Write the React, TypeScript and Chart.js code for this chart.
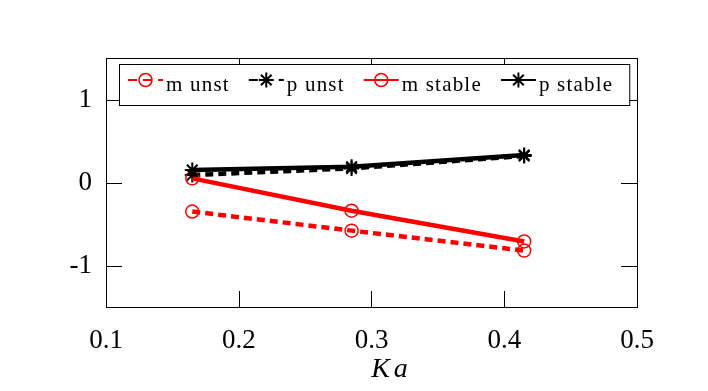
import React, { useEffect, useRef } from "react";
import { Chart, registerables } from "chart.js";

Chart.register(...registerables);

// ---- data ----
const kaValues = [0.165, 0.285, 0.415];
const mUnst = [-0.35, -0.58, -0.82];
const pUnst = [0.09, 0.17, 0.32];
const mStable = [0.05, -0.34, -0.71];
const pStable = [0.15, 0.19, 0.33];
const xTicks = [0.1, 0.2, 0.3, 0.4, 0.5];
const yTicks = [-1, 0, 1];
const seriesLabels = ["m unst", "p unst", "m stable", "p stable"];
const xTitle = "Ka";

const RED = "#ff0000";
const BLACK = "#000000";
const SERIF = "'Liberation Serif', 'DejaVu Serif', serif";

function pts(ys: number[]) {
  return kaValues.map((x, i) => ({ x, y: ys[i] }));
}

function drawMarker(ctx: CanvasRenderingContext2D, style: string, cx: number, cy: number, r: number, color: string, lw: number) {
  ctx.save();
  ctx.setLineDash([]);
  ctx.strokeStyle = color;
  ctx.lineWidth = lw;
  ctx.beginPath();
  if (style === "circle") {
    ctx.arc(cx, cy, r, 0, Math.PI * 2);
  } else {
    for (let k = 0; k < 4; k++) {
      const ang = (k * Math.PI) / 4;
      const dx = Math.cos(ang) * r;
      const dy = Math.sin(ang) * r;
      ctx.moveTo(cx - dx, cy - dy);
      ctx.lineTo(cx + dx, cy + dy);
    }
  }
  ctx.stroke();
  ctx.restore();
}

const framePlugin = {
  id: "frame",
  afterDatasetsDraw(chart: any) {
    const { ctx, chartArea: a, scales } = chart;
    const xs = scales.x;
    const ys = scales.y;
    ctx.save();
    ctx.setLineDash([]);
    ctx.strokeStyle = BLACK;
    ctx.lineWidth = 1;
    ctx.strokeRect(a.left + 0.5, a.top + 0.5, a.right - a.left, a.bottom - a.top);
    const tl = 16;
    ctx.beginPath();
    xTicks.forEach((v) => {
      const px = Math.round(xs.getPixelForValue(v)) + 0.5;
      ctx.moveTo(px, a.bottom);
      ctx.lineTo(px, a.bottom - tl);
      ctx.moveTo(px, a.top);
      ctx.lineTo(px, a.top + tl);
    });
    yTicks.forEach((v) => {
      const py = Math.round(ys.getPixelForValue(v)) + 0.5;
      ctx.moveTo(a.left, py);
      ctx.lineTo(a.left + tl, py);
      ctx.moveTo(a.right, py);
      ctx.lineTo(a.right - tl, py);
    });
    ctx.stroke();

    // ---- legend ----
    const lx = a.left + 13;
    const ly = a.top + 6;
    const lh = 41;
    ctx.font = `21px ${SERIF}`;
    (ctx as any).letterSpacing = "1.2px";
    const sampleLen = 35;
    const widths = chart.data.datasets.map((d: any) => ctx.measureText(d.label).width);
    let total = 9;
    widths.forEach((w: number, i: number) => {
      total += sampleLen + 3 + w + (i < widths.length - 1 ? 19 : 16);
    });
    ctx.fillStyle = "#ffffff";
    ctx.fillRect(lx, ly, total, lh);
    ctx.strokeStyle = BLACK;
    ctx.lineWidth = 1;
    ctx.strokeRect(lx + 0.5, ly + 0.5, total, lh);
    let cx = lx + 9;
    chart.data.datasets.forEach((d: any, i: number) => {
      const lineY = ly + 16;
      ctx.save();
      ctx.strokeStyle = d.borderColor;
      ctx.lineWidth = 2;
      ctx.setLineDash(d.borderDash && d.borderDash.length ? [9, 6] : []);
      ctx.beginPath();
      ctx.moveTo(cx, lineY);
      ctx.lineTo(cx + sampleLen, lineY);
      ctx.stroke();
      ctx.restore();
      drawMarker(ctx, d.pointStyle, cx + sampleLen / 2, lineY, d.pointRadius, d.pointBorderColor, d.pointBorderWidth);
      ctx.fillStyle = BLACK;
      ctx.textAlign = "left";
      ctx.textBaseline = "alphabetic";
      ctx.fillText(d.label, cx + sampleLen + 3, ly + 27);
      cx += sampleLen + 3 + widths[i] + 19;
    });
    (ctx as any).letterSpacing = "0px";

    // ---- x title ----
    ctx.font = `italic 28px ${SERIF}`;
    (ctx as any).letterSpacing = "4px";
    ctx.fillStyle = BLACK;
    ctx.textAlign = "center";
    ctx.textBaseline = "middle";
    ctx.fillText(xTitle, (a.left + a.right) / 2 + 20, a.bottom + 63);
    (ctx as any).letterSpacing = "0px";
    ctx.restore();
  },
};

export default function App() {
  const ref = useRef<HTMLCanvasElement | null>(null);
  useEffect(() => {
    if (!ref.current) return;
    const mk = (label: string, ys: number[], color: string, dashed: boolean, style: string, order: number) => ({
      label,
      data: pts(ys),
      borderColor: color,
      backgroundColor: "transparent",
      borderWidth: 4.5,
      borderDash: dashed ? [8, 5] : [],
      pointStyle: style,
      pointRadius: style === "circle" ? 6.5 : 7.5,
      pointBorderColor: color,
      pointBackgroundColor: "transparent",
      pointBorderWidth: style === "circle" ? 1.5 : 2,
      pointHoverRadius: 0,
      tension: 0,
      fill: false,
      order,
    });
    const chart = new Chart(ref.current, {
      type: "line",
      data: {
        datasets: [
          mk(seriesLabels[0], mUnst, RED, true, "circle", 3),
          mk(seriesLabels[1], pUnst, BLACK, true, "star", 2),
          mk(seriesLabels[2], mStable, RED, false, "circle", 1),
          mk(seriesLabels[3], pStable, BLACK, false, "star", 0),
        ] as any,
      },
      options: {
        responsive: false,
        animation: false,
        events: [],
        layout: { padding: { left: 0, right: 71, top: 58, bottom: 0 } },
        plugins: {
          legend: { display: false },
          tooltip: { enabled: false },
        },
        scales: {
          x: {
            type: "linear",
            min: 0.1,
            max: 0.5,
            afterBuildTicks: (s: any) => {
              s.ticks = xTicks.map((v) => ({ value: v }));
            },
            afterFit: (s: any) => {
              s.height = 84;
            },
            grid: { display: false },
            border: { display: false },
            ticks: {
              color: BLACK,
              padding: 10,
              font: { family: SERIF, size: 27 },
              callback: (v: any) => Number(v).toFixed(1),
            },
          },
          y: {
            type: "linear",
            min: -1.5,
            max: 1.5,
            afterBuildTicks: (s: any) => {
              s.ticks = yTicks.map((v) => ({ value: v }));
            },
            afterFit: (s: any) => {
              s.width = 106;
            },
            grid: { display: false },
            border: { display: false },
            ticks: {
              color: BLACK,
              padding: 6,
              font: { family: SERIF, size: 27 },
              callback: (v: any) => String(v),
            },
          },
        },
      },
      plugins: [framePlugin],
    });
    return () => chart.destroy();
  }, []);
  return (
    <div style={{ position: "fixed", left: 0, top: 0, width: 708, height: 391, background: "#fff" }}>
      <canvas ref={ref} width={708} height={391} style={{ display: "block" }} />
    </div>
  );
}
